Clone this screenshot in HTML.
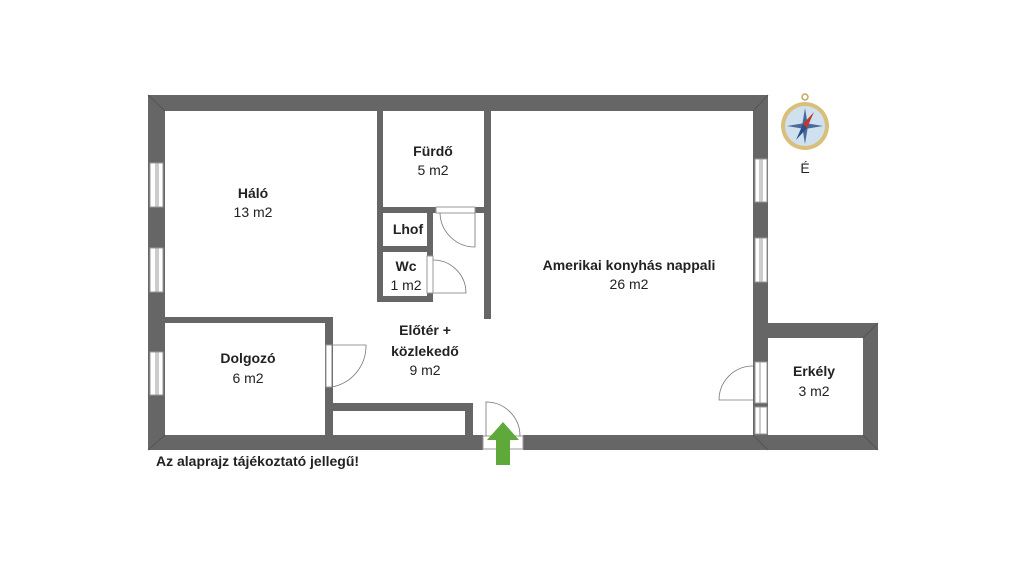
<!DOCTYPE html>
<html><head><meta charset="utf-8"><style>
html,body{margin:0;padding:0;background:#fff;}
svg text{font-family:"Liberation Sans",sans-serif;fill:#222;}
.b{font-weight:bold;font-size:14px}
.n{font-size:14px}
</style></head><body>
<svg width="1024" height="576" viewBox="0 0 1024 576" xmlns="http://www.w3.org/2000/svg">
<rect width="1024" height="576" fill="#fff"/>
<g fill="#666">
<rect x="148" y="95" width="620" height="16"/>
<rect x="148" y="95" width="17" height="355"/>
<rect x="148" y="435" width="335" height="15"/>
<rect x="523" y="435" width="355" height="15"/>
<rect x="753" y="95" width="15" height="355"/>
<rect x="753" y="323" width="125" height="15"/>
<rect x="863" y="323" width="15" height="127"/>
<rect x="377" y="110" width="6" height="192"/>
<rect x="377" y="207" width="59" height="6"/>
<rect x="475" y="207" width="9" height="6"/>
<rect x="484" y="110" width="7" height="209"/>
<rect x="377" y="296" width="56" height="6"/>
<rect x="427" y="207" width="6" height="95"/>
<rect x="377" y="246" width="56" height="6"/>
<rect x="148" y="317" width="185" height="6"/>
<rect x="325" y="317" width="8" height="118"/>
<rect x="325" y="403" width="148" height="8"/>
<rect x="465" y="403" width="8" height="32"/>
</g>
<g fill="none" stroke="#555" stroke-width="1">
<line x1="148" y1="95" x2="165" y2="111"/>
<line x1="768" y1="95" x2="753" y2="111"/>
<line x1="148" y1="450" x2="165" y2="435"/>
<line x1="878" y1="323" x2="863" y2="338"/>
<line x1="878" y1="450" x2="863" y2="435"/>
<line x1="753" y1="435" x2="768" y2="450"/>
</g>
<g fill="#fff" stroke="#999" stroke-width="1">
<rect x="150" y="163" width="13" height="44"/><line x1="156" y1="163" x2="156" y2="207"/><line x1="158" y1="163" x2="158" y2="207"/>
<rect x="150" y="248" width="13" height="44"/><line x1="156" y1="248" x2="156" y2="292"/><line x1="158" y1="248" x2="158" y2="292"/>
<rect x="150" y="352" width="13" height="43"/><line x1="156" y1="352" x2="156" y2="395"/><line x1="158" y1="352" x2="158" y2="395"/>
<rect x="755" y="159" width="12" height="43"/><line x1="760" y1="159" x2="760" y2="202"/><line x1="762" y1="159" x2="762" y2="202"/>
<rect x="755" y="238" width="12" height="44"/><line x1="760" y1="238" x2="760" y2="282"/><line x1="762" y1="238" x2="762" y2="282"/>
<rect x="755" y="362" width="12" height="41"/><line x1="760" y1="362" x2="760" y2="403"/>
<rect x="755" y="407" width="12" height="27"/><line x1="760" y1="407" x2="760" y2="434"/>
<rect x="436" y="207" width="39" height="6"/>
<rect x="427" y="256" width="6" height="37"/>
<rect x="326" y="345" width="6" height="42"/>
<rect x="483" y="436" width="40" height="13"/>
</g>
<g fill="none" stroke="#777" stroke-width="0.8">
<path d="M475 213 L475 247 A35 35 0 0 1 440 213"/>
<path d="M433 293 L466 293 A33 33 0 0 0 433 260"/>
<path d="M332 387 L332 345 L366 345 A42 42 0 0 1 332 387"/>
<path d="M753 400 L719 400 A34 34 0 0 1 753 366"/>
<path d="M486 436 L486 402 A34 34 0 0 1 520 436"/>
</g>
<polygon points="503,422 519,440 510,440 510,465 496,465 496,440 487,440" fill="#5fa83a"/>
<circle cx="805" cy="97" r="3" fill="none" stroke="#c8a860" stroke-width="1.5"/>
<circle cx="805" cy="126" r="24" fill="#d9bf7a"/>
<circle cx="805" cy="126" r="20" fill="#cfe0ee"/>
<polygon points="805,108 808,126 805,144 802,126" fill="#4a6a9a"/>
<polygon points="787,126 805,123 823,126 805,129" fill="#4a6a9a"/>
<polygon points="814,112 807,128 803,124" fill="#c0392b"/>
<polygon points="796,140 803,124 807,128" fill="#2b4f8a"/>
<g text-anchor="middle">
<text x="253" y="198" class="b">Háló</text><text x="253" y="217" class="n">13 m2</text>
<text x="433" y="156" class="b">Fürdő</text><text x="433" y="175" class="n">5 m2</text>
<text x="408" y="234" class="b">Lhof</text>
<text x="406" y="271" class="b">Wc</text><text x="406" y="290" class="n">1 m2</text>
<text x="425" y="335" class="b">Előtér +</text><text x="425" y="356" class="b">közlekedő</text><text x="425" y="375" class="n">9 m2</text>
<text x="248" y="363" class="b">Dolgozó</text><text x="248" y="383" class="n">6 m2</text>
<text x="629" y="270" class="b">Amerikai konyhás nappali</text><text x="629" y="289" class="n">26 m2</text>
<text x="814" y="376" class="b">Erkély</text><text x="814" y="396" class="n">3 m2</text>
<text x="805" y="173" class="n">É</text>
</g>
<text x="156" y="466" class="b">Az alaprajz tájékoztató jellegű!</text>
</svg>
</body></html>
